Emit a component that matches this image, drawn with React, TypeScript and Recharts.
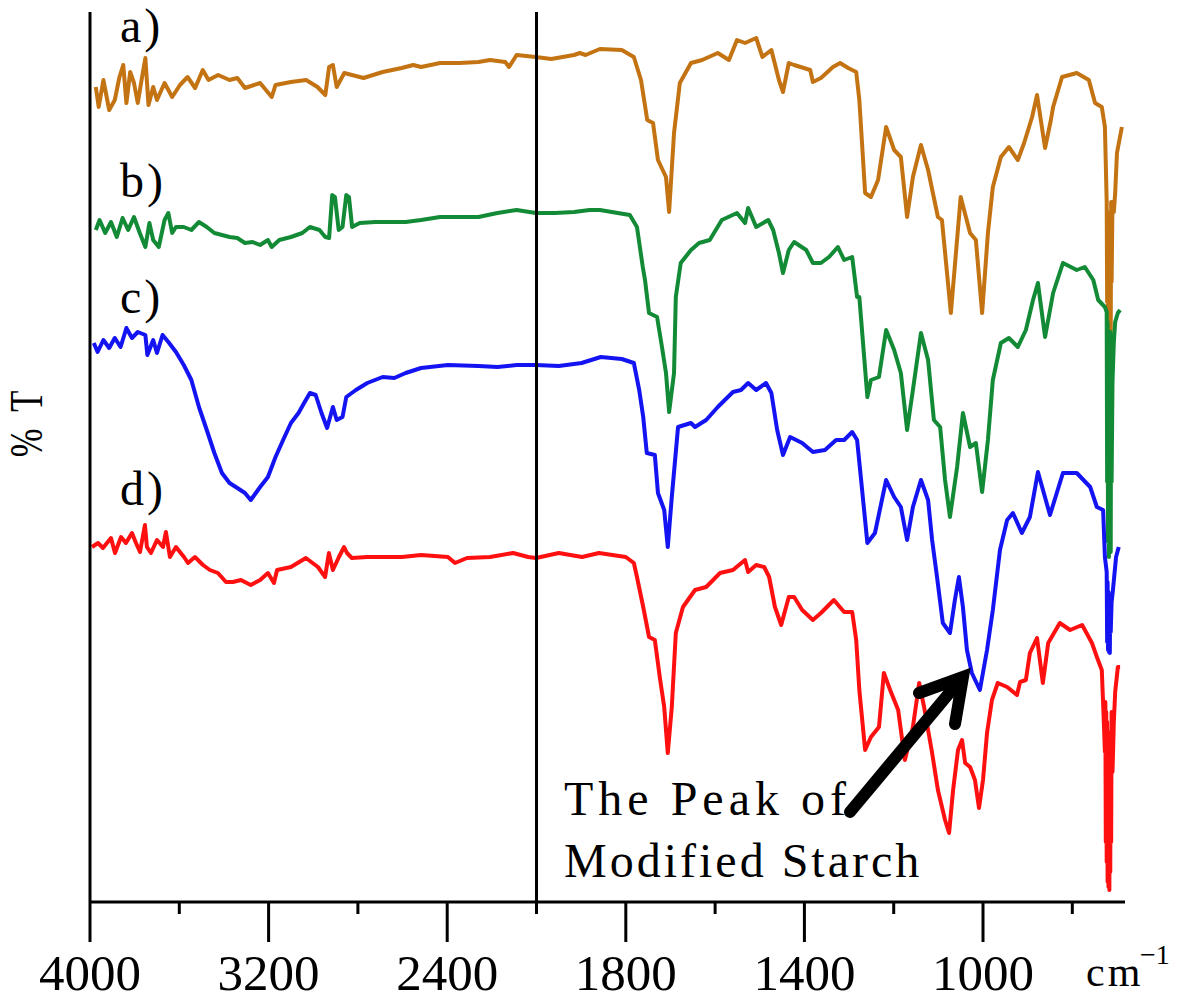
import React from "react";
import { LineChart, Line, XAxis, YAxis, ReferenceLine } from "recharts";

// FTIR spectra, [wavenumber cm-1, transmittance (arbitrary offset units)]
const spectrumA: [number, number][] = [
  [3974, 815], [3961, 795], [3940, 822], [3914, 792], [3889, 802], [3868, 825], [3851, 837], [3837, 799],
  [3820, 830], [3803, 819], [3786, 799], [3769, 822], [3752, 844], [3738, 797], [3717, 815], [3700, 802],
  [3666, 819], [3632, 805], [3597, 817], [3563, 825], [3529, 814], [3495, 832], [3469, 822], [3426, 827],
  [3375, 822], [3340, 824], [3306, 814], [3238, 819], [3186, 805], [3169, 817], [3100, 820], [3032, 822],
  [2981, 815], [2946, 807], [2929, 835], [2912, 837], [2895, 815], [2861, 829], [2775, 824], [2689, 830],
  [2604, 834], [2552, 837], [2517, 835], [2432, 839], [2346, 839], [2260, 840], [2208, 842], [2140, 840],
  [2123, 835], [2089, 847], [2003, 845], [1967, 843], [1916, 847], [1903, 849], [1890, 847], [1858, 853],
  [1809, 852], [1782, 845], [1766, 822], [1752, 782], [1739, 779], [1728, 742], [1710, 725], [1703, 690],
  [1692, 769], [1679, 819], [1654, 839], [1629, 842], [1594, 849], [1569, 842], [1551, 862], [1533, 859],
  [1508, 864], [1494, 845], [1474, 852], [1457, 822], [1448, 810], [1435, 839], [1423, 837], [1387, 832],
  [1381, 820], [1363, 824], [1336, 835], [1320, 839], [1302, 834], [1284, 830], [1277, 802], [1264, 709],
  [1251, 705], [1235, 722], [1217, 775], [1199, 752], [1184, 745], [1170, 685], [1157, 725], [1139, 757],
  [1123, 732], [1101, 685], [1092, 682], [1072, 589], [1050, 705], [1029, 669], [1016, 662], [1002, 589],
  [989, 669], [978, 715], [960, 745], [942, 755], [922, 742], [908, 759], [890, 785], [879, 807],
  [861, 754], [848, 782], [843, 795], [823, 825], [790, 829], [763, 822], [749, 799], [734, 795],
  [727, 775], [723, 700], [722, 600], [721, 690], [720, 560], [719, 680], [718, 555], [717, 670],
  [716, 560], [715, 690], [714, 565], [713, 700], [712, 620], [710, 700], [707, 690], [704, 709],
  [700, 749], [689, 775],
];

const spectrumB: [number, number][] = [
  [3974, 672], [3957, 682], [3932, 669], [3906, 680], [3880, 665], [3854, 684], [3829, 672], [3803, 685],
  [3777, 669], [3752, 655], [3734, 679], [3717, 662], [3692, 655], [3666, 682], [3649, 689], [3632, 669],
  [3615, 675], [3580, 675], [3546, 672], [3512, 680], [3477, 675], [3443, 669], [3409, 667], [3375, 665],
  [3340, 664], [3306, 659], [3272, 660], [3238, 657], [3203, 662], [3186, 655], [3152, 662], [3100, 665],
  [3049, 669], [3015, 675], [2972, 672], [2946, 665], [2929, 664], [2915, 707], [2903, 705], [2886, 672],
  [2869, 675], [2852, 707], [2840, 705], [2826, 675], [2792, 679], [2723, 680], [2655, 680], [2586, 680],
  [2517, 682], [2432, 685], [2346, 685], [2260, 685], [2175, 689], [2089, 692], [2003, 689], [1959, 689],
  [1916, 690], [1881, 692], [1858, 692], [1818, 689], [1791, 687], [1775, 675], [1762, 635], [1757, 622],
  [1748, 589], [1730, 585], [1719, 555], [1710, 529], [1703, 490], [1692, 529], [1688, 605], [1677, 639],
  [1654, 652], [1636, 659], [1612, 662], [1585, 682], [1551, 689], [1533, 679], [1526, 694], [1508, 675],
  [1481, 682], [1470, 672], [1457, 649], [1448, 629], [1435, 652], [1423, 660], [1396, 652], [1381, 639],
  [1363, 639], [1345, 645], [1325, 655], [1311, 642], [1293, 645], [1282, 605], [1277, 605], [1268, 555],
  [1259, 505], [1251, 522], [1233, 525], [1217, 572], [1199, 552], [1184, 529], [1170, 472], [1157, 512],
  [1139, 569], [1123, 542], [1110, 482], [1096, 475], [1085, 422], [1074, 385], [1058, 435], [1045, 489],
  [1029, 455], [1016, 459], [1002, 410], [989, 462], [978, 522], [960, 559], [942, 564], [922, 555],
  [904, 572], [888, 602], [877, 619], [861, 565], [843, 609], [821, 639], [790, 632], [772, 635],
  [753, 622], [742, 602], [727, 595], [723, 590], [722, 420], [721, 580], [720, 360], [719, 560],
  [718, 345], [717, 560], [716, 350], [715, 570], [714, 350], [713, 560], [712, 420], [710, 520],
  [707, 560], [704, 580], [698, 589], [693, 592],
];

const spectrumC: [number, number][] = [
  [3983, 559], [3966, 550], [3940, 562], [3914, 554], [3889, 564], [3863, 555], [3837, 574], [3812, 564],
  [3786, 570], [3752, 567], [3743, 547], [3717, 562], [3700, 549], [3675, 567], [3649, 560], [3615, 550],
  [3580, 537], [3546, 522], [3512, 495], [3477, 472], [3443, 449], [3409, 429], [3375, 419], [3340, 414],
  [3306, 409], [3280, 402], [3238, 415], [3203, 425], [3169, 445], [3135, 462], [3100, 479], [3066, 489],
  [3041, 499], [3015, 509], [2989, 507], [2963, 489], [2938, 474], [2912, 495], [2895, 482], [2869, 485],
  [2852, 505], [2809, 512], [2758, 519], [2689, 525], [2637, 524], [2586, 529], [2517, 534], [2397, 537],
  [2260, 536], [2175, 535], [2089, 537], [2003, 537], [1950, 536], [1899, 539], [1856, 545], [1809, 543],
  [1782, 539], [1770, 512], [1761, 485], [1753, 449], [1735, 447], [1728, 409], [1714, 392], [1706, 355],
  [1697, 405], [1683, 475], [1654, 479], [1645, 475], [1620, 482], [1594, 495], [1560, 510], [1542, 512],
  [1526, 519], [1508, 512], [1486, 519], [1474, 509], [1461, 472], [1448, 447], [1432, 465], [1405, 459],
  [1381, 450], [1354, 452], [1329, 462], [1311, 462], [1293, 470], [1282, 462], [1273, 422], [1259, 359],
  [1242, 369], [1217, 422], [1199, 405], [1184, 395], [1170, 362], [1157, 395], [1139, 422], [1123, 402],
  [1114, 362], [1103, 325], [1090, 279], [1074, 269], [1063, 302], [1054, 325], [1045, 295], [1036, 252],
  [1025, 229], [1007, 212], [991, 252], [978, 292], [962, 352], [946, 382], [933, 389], [913, 369],
  [895, 385], [877, 430], [850, 387], [821, 429], [790, 429], [760, 415], [745, 395], [731, 392],
  [727, 345], [723, 330], [722, 260], [721, 320], [720, 252], [719, 310], [718, 250], [717, 300],
  [716, 249], [715, 300], [714, 270], [712, 300], [709, 312], [702, 345], [696, 355],
];

const spectrumD: [number, number][] = [
  [3991, 355], [3964, 359], [3942, 354], [3906, 364], [3888, 349], [3861, 365], [3839, 359], [3812, 369],
  [3794, 359], [3776, 350], [3754, 377], [3745, 355], [3727, 349], [3700, 362], [3673, 355], [3660, 370],
  [3642, 345], [3615, 355], [3579, 345], [3561, 339], [3530, 345], [3494, 337], [3463, 332], [3427, 329],
  [3391, 320], [3360, 320], [3324, 322], [3280, 317], [3238, 322], [3203, 329], [3176, 319], [3162, 332],
  [3100, 335], [3033, 344], [2979, 335], [2947, 325], [2930, 349], [2912, 332], [2885, 345], [2862, 355],
  [2849, 349], [2827, 344], [2759, 345], [2688, 345], [2603, 345], [2517, 347], [2397, 345], [2365, 339],
  [2311, 344], [2208, 345], [2105, 349], [2037, 345], [2002, 344], [1950, 349], [1898, 345], [1860, 349],
  [1800, 345], [1782, 339], [1775, 325], [1761, 295], [1748, 265], [1735, 262], [1723, 222], [1714, 195],
  [1706, 149], [1697, 195], [1688, 269], [1672, 295], [1645, 312], [1620, 315], [1589, 329], [1560, 332],
  [1533, 342], [1526, 330], [1508, 337], [1490, 335], [1479, 325], [1466, 295], [1452, 277], [1435, 305],
  [1423, 305], [1405, 292], [1381, 282], [1363, 289], [1334, 302], [1311, 290], [1293, 290], [1284, 262],
  [1277, 212], [1264, 152], [1251, 165], [1233, 175], [1222, 229], [1208, 212], [1190, 192], [1175, 142],
  [1157, 175], [1143, 219], [1132, 195], [1114, 149], [1101, 112], [1085, 82], [1076, 69], [1067, 112],
  [1056, 152], [1047, 162], [1040, 139], [1029, 135], [1018, 122], [1009, 94], [1000, 122], [991, 169],
  [980, 202], [967, 219], [946, 215], [924, 207], [917, 220], [904, 222], [895, 249], [879, 264],
  [866, 219], [854, 259], [828, 279], [805, 272], [778, 277], [756, 259], [745, 245], [734, 232],
  [731, 199], [727, 150], [726, 200], [725, 60], [724, 190], [723, 40], [722, 180], [721, 20],
  [720, 170], [719, 15], [718, 160], [717, 12], [716, 150], [715, 30], [714, 170], [713, 60],
  [712, 190], [710, 130], [707, 180], [704, 210], [698, 235], [693, 235],
];

const majorTicks = [4000, 3200, 2400, 1800, 1400, 1000];
const minorTicks = [3600, 2800, 2000, 1600, 1200, 800];
const seriesLabels = ["a)", "b)", "c)", "d)"];

// broken axis: 4000-2000 is compressed 2x, below 2000 linear
const waveToPos = (w: number) => (w >= 2000 ? (4000 - w) / 2 : 1000 + (2000 - w));
const posToWave = (p: number) => (p <= 1000 ? 4000 - 2 * p : 2000 - (p - 1000));

const toRows = (s: [number, number][]) =>
  s.map(([w, t]) => ({ pos: waveToPos(w), t })).sort((a, b) => a.pos - b.pos);

const serif = "'Liberation Serif', 'Times New Roman', serif";

const WaveTick = (props: any) => {
  const { x, y, payload } = props;
  const w = Math.round(posToWave(payload.value));
  const major = majorTicks.includes(w);
  return (
    <g>
      <line x1={x} x2={x} y1={y} y2={y + (major ? 40 : 12)} stroke="#000" strokeWidth={3} />
      {major && (
        <text x={x} y={y + 88} textAnchor="middle" fontSize={51} fontFamily={serif} fill="#000">
          {w}
        </text>
      )}
    </g>
  );
};

export default function App() {
  const ticks = [...majorTicks, ...minorTicks].map(waveToPos).sort((a, b) => a - b);
  const series = [
    { key: "a", rows: toRows(spectrumA), color: "#C47313" },
    { key: "b", rows: toRows(spectrumB), color: "#138A36" },
    { key: "c", rows: toRows(spectrumC), color: "#1414F2" },
    { key: "d", rows: toRows(spectrumD), color: "#FF1010" },
  ];
  const labelY = [42, 197, 313, 505];

  return (
    <div style={{ position: "absolute", left: 0, top: 0, width: 1179, height: 1000, background: "#fff" }}>
      <LineChart width={1179} height={1000} margin={{ top: 12, right: 54, bottom: 0, left: 0 }}>
        <XAxis
          type="number"
          dataKey="pos"
          domain={[0, 2318]}
          ticks={ticks}
          interval={0}
          allowDataOverflow
          height={98}
          tickSize={0}
          tickMargin={0}
          tickLine={false}
          axisLine={{ stroke: "#000", strokeWidth: 3 }}
          tick={<WaveTick />}
        />
        <YAxis
          type="number"
          domain={[0, 890]}
          allowDataOverflow
          width={90}
          tick={false}
          tickLine={false}
          axisLine={{ stroke: "#000", strokeWidth: 3 }}
        />
        {series.map((s) => (
          <Line
            key={s.key}
            data={s.rows}
            dataKey="t"
            type="linear"
            stroke={s.color}
            strokeWidth={4}
            strokeLinejoin="round"
            dot={false}
            isAnimationActive={false}
          />
        ))}
        <ReferenceLine x={waveToPos(2000)} stroke="#000" strokeWidth={3} />
      </LineChart>

      <svg
        width={1179}
        height={1000}
        style={{ position: "absolute", left: 0, top: 0, pointerEvents: "none" }}
        fontFamily={serif}
      >
        {seriesLabels.map((l, i) => (
          <text key={l} x={120} y={labelY[i]} fontSize={48} letterSpacing={3} fill="#000">
            {l}
          </text>
        ))}
        <text
          transform="translate(42,424) rotate(-90) scale(0.75,1)"
          textAnchor="middle"
          fontSize={46}
          fill="#000"
          style={{ whiteSpace: "pre" }}
        >
          {"%  T"}
        </text>
        <text x={564} y={815} fontSize={48} letterSpacing={5} fill="#000">
          The Peak of
        </text>
        <text x={564} y={877} fontSize={48} letterSpacing={3} fill="#000">
          Modified Starch
        </text>
        <path
          d="M850,812 L961,679 M919,693 L963,677 L955,724"
          stroke="#000"
          strokeWidth={12}
          fill="none"
          strokeLinecap="round"
          strokeLinejoin="miter"
        />
        <text x={1086} y={986} fontSize={42} letterSpacing={3} fill="#000">
          cm
        </text>
        <text x={1140} y={964} fontSize={28} fill="#000">
          −1
        </text>
      </svg>
    </div>
  );
}
